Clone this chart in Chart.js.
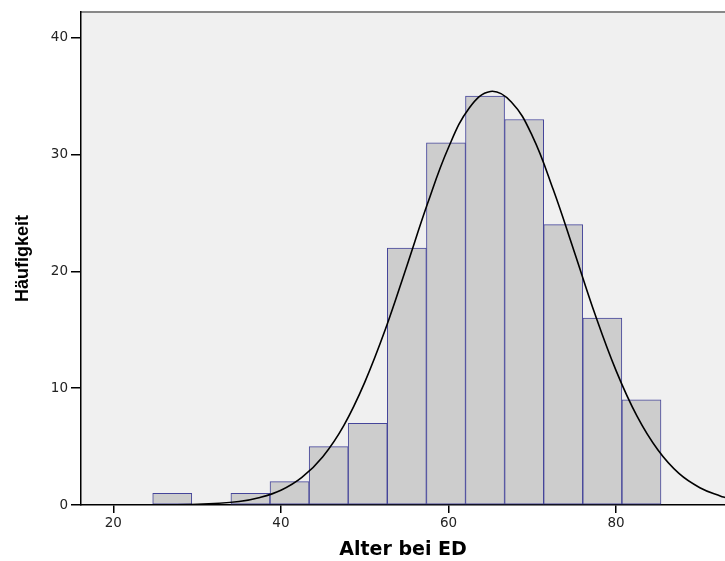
<!DOCTYPE html>
<html>
<head>
<meta charset="utf-8">
<script src="https://cdn.jsdelivr.net/npm/chart.js@4/dist/chart.umd.min.js"></script>
<style>
html,body{margin:0;padding:0;background:#fff;}
#wrap{width:725px;height:561px;position:relative;}
</style>
</head>
<body>
<div id="wrap"><canvas id="c" width="725" height="561"></canvas></div>
<script>
// Histogram bins (centers, years) and counts
const binCenters = [27.03, 31.70, 36.36, 41.03, 45.70, 50.36, 55.03, 59.70, 64.36, 69.03, 73.69, 78.36, 83.03];
const binCounts  = [1, 0, 1, 2, 5, 7, 22, 31, 35, 33, 24, 16, 9];
// Normal curve, values
const curveX = [16, 20, 25, 30, 35, 37.5, 40, 42.5, 45, 47.5, 50, 52.5, 55, 57.5, 60, 62.5, 65, 67.5, 70, 72.5, 75, 77.5, 80, 82.5, 85, 87.5, 90, 92.5, 93];
const curveY = [0, 0, 0.01, 0.05, 0.3, 0.64, 1.26, 2.36, 4.14, 6.8, 10.5, 15.1, 20.4, 25.8, 30.6, 34.0, 35.4, 34.5, 31.6, 27.0, 21.7, 16.3, 11.5, 7.6, 4.7, 2.7, 1.48, 0.75, 0.65];
const xTicks = [20, 40, 60, 80];
const yTicks = [0, 10, 20, 30, 40];
const xTitle = 'Alter bei ED';
const yTitle = 'Häufigkeit';

const bgPlugin = {
  id: 'bg',
  beforeDraw(chart) {
    const {ctx, chartArea: a} = chart;
    ctx.save();
    ctx.fillStyle = '#f0f0f0';
    ctx.fillRect(a.left, a.top, a.right - a.left, a.bottom - a.top);
    ctx.restore();
  }
};

new Chart(document.getElementById('c'), {
  data: {
    datasets: [
      {
        type: 'line',
        data: curveX.map((x, i) => ({x: x, y: curveY[i]})),
        borderColor: '#000',
        borderWidth: 1.6,
        pointRadius: 0,
        tension: 0.4,
        fill: false,
        order: 0
      },
      {
        type: 'bar',
        data: binCenters.map((x, i) => ({x: x, y: binCounts[i]})),
        backgroundColor: '#cdcdcd',
        borderColor: '#45459a',
        borderWidth: 1,
        borderSkipped: false,
        barPercentage: 1,
        categoryPercentage: 1,
        order: 1
      }
    ]
  },
  options: {
    responsive: false,
    animation: false,
    layout: {padding: {top: 12, right: 0, bottom: 0, left: 0}},
    plugins: {legend: {display: false}, tooltip: {enabled: false}},
    scales: {
      x: {
        type: 'linear',
        position: 'bottom',
        offset: false,
        min: 16.14,
        max: 93.0,
        afterBuildTicks(s) { s.ticks = xTicks.map(v => ({value: v})); },
        afterFit(s) { s.height = 56; },
        ticks: {font: {family: 'DejaVu Sans', size: 13.5}, color: '#222', padding: 2, maxRotation: 0},
        grid: {display: true, offset: false, drawOnChartArea: false, drawTicks: true, tickLength: 8, color: '#000', lineWidth: 1.5},
        border: {display: true, color: '#000', width: 1.5},
        title: {display: true, text: xTitle, font: {family: 'DejaVu Sans', size: 19, weight: 'bold'}, color: '#000', padding: {top: 0, bottom: 0}}
      },
      x2: {
        type: 'linear',
        position: 'top',
        offset: false,
        min: 16.14,
        max: 93.0,
        afterFit(s) { s.height = 0; },
        ticks: {display: false},
        grid: {display: false, offset: false, drawTicks: false},
        border: {display: true, color: '#888', width: 2}
      },
      y: {
        type: 'linear',
        min: 0,
        max: 42.2,
        afterBuildTicks(s) { s.ticks = yTicks.map(v => ({value: v})); },
        afterFit(s) { s.width = 81; },
        ticks: {font: {family: 'DejaVu Sans', size: 13.5}, color: '#222', padding: 3},
        grid: {display: true, drawOnChartArea: false, drawTicks: true, tickLength: 10, color: '#000', lineWidth: 1.5},
        border: {display: true, color: '#000', width: 1.5},
        title: {display: true, text: yTitle, font: {family: "'Liberation Sans Narrow', 'Arial Narrow', 'Liberation Sans', sans-serif", size: 18, weight: 'bold'}, color: '#000', padding: {top: 12, bottom: 0}}
      }
    }
  },
  plugins: [bgPlugin]
});
</script>
</body>
</html>
